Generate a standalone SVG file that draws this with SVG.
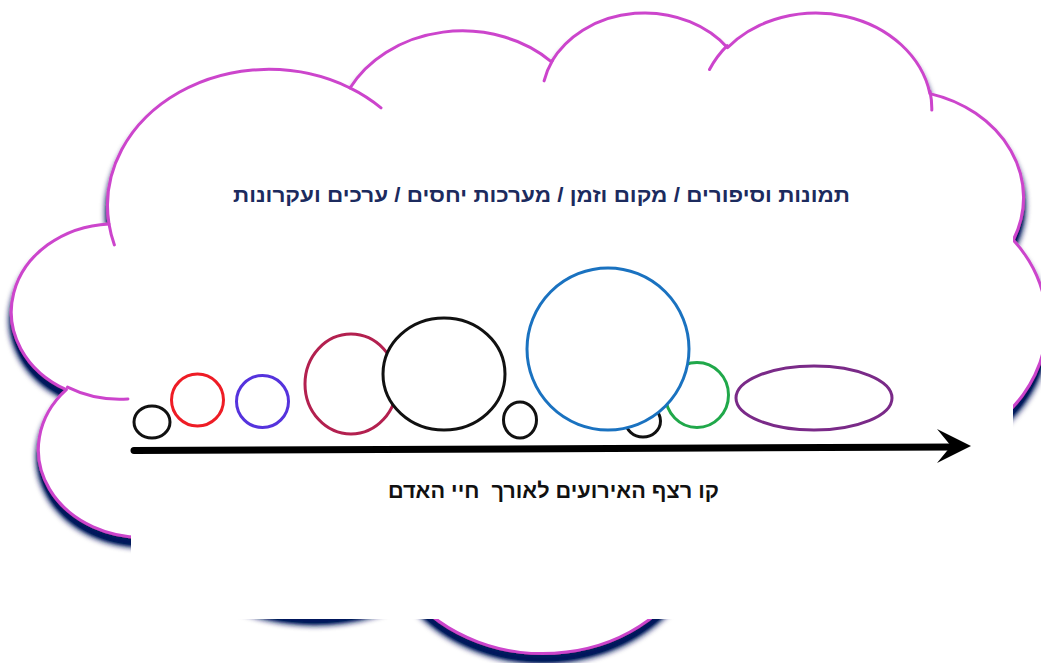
<svg xmlns="http://www.w3.org/2000/svg" width="1041" height="663" viewBox="0 0 1041 663">
  <style>
    .cloud { fill: #ffffff; stroke: #cc44cc; stroke-width: 3; stroke-linejoin: round; }
    .stub { fill: none; stroke: #cc44cc; stroke-width: 3; stroke-linecap: round; }
    .ev { fill: #ffffff; stroke-width: 3; }
    .t { font-family: "Liberation Sans", "DejaVu Sans", Arial, sans-serif; font-weight: bold; }
  </style>
  <defs>
    <filter id="shadow" x="-5%" y="-5%" width="110%" height="115%">
      <feGaussianBlur in="SourceAlpha" stdDeviation="3"/>
      <feOffset dx="0" dy="8" result="b"/>
      <feFlood flood-color="#061a5c"/>
      <feComposite in2="b" operator="in"/>
      <feComponentTransfer>
        <feFuncA type="linear" slope="1.4"/>
      </feComponentTransfer>
      <feMerge>
        <feMergeNode/>
        <feMergeNode in="SourceGraphic"/>
      </feMerge>
    </filter>
  </defs>
  <rect width="1041" height="663" fill="#ffffff"/>

  <g id="cloud">
    <path class="cloud" filter="url(#shadow)" d="M109.0,223.9 A161.1,136.2 0 0 1 350.0,88.0 A127.2,107.7 0 0 1 551.5,61.8 A104.1,88.1 0 0 1 727.5,47.7 A115.8,97.7 0 0 1 929.9,93.6 A127.2,107.8 0 0 1 1013.3,240.0 A161.6,136.6 0 0 1 908.0,458.5 A138.0,116.6 0 0 1 697.0,556.5 A161.0,136.6 0 0 1 409.0,592.8 A184.1,156.2 0 0 1 154.4,536.7 A104.0,87.7 0 0 1 66.4,389.7 A103.6,88.1 0 0 1 109.0,223.9 Z"/>
    <path class="stub" d="M114.4,244.9 A161.1,136.2 0 0 1 109.0,223.9 M349.9,87.9 A161.1,136.2 0 0 1 381.0,107.9 M544.1,80.9 A104.1,88.1 0 0 1 552.6,60.3 M709.5,69.5 A115.8,97.7 0 0 1 727.2,45.6 M930.0,91.4 A115.8,97.7 0 0 1 931.8,110.1 M127.9,398.9 A103.6,88.1 0 0 1 67.5,387.1"/>
  </g>

  <g id="panel">
    <rect x="131" y="170" width="882" height="449" fill="#ffffff"/>
  </g>

  <g id="title">
    <text class="t" x="541.5" y="201.5" font-size="20" fill="#1c2b5e" text-anchor="middle" direction="rtl" textLength="617" lengthAdjust="spacingAndGlyphs">תמונות וסיפורים / מקום וזמן / מערכות יחסים / ערכים ועקרונות</text>
  </g>

  <g id="event-1"><ellipse class="ev" cx="152" cy="422" rx="18" ry="16" stroke="#111111" stroke-width="2.7"/></g>
  <g id="event-2"><circle class="ev" cx="197.5" cy="400" r="26" stroke="#ee1c25"/></g>
  <g id="event-3"><circle class="ev" cx="262.5" cy="401.5" r="26" stroke="#5533dd"/></g>
  <g id="event-4"><ellipse class="ev" cx="351" cy="384" rx="46" ry="50" stroke="#b3204f"/></g>
  <g id="event-5"><ellipse class="ev" cx="444" cy="374" rx="61" ry="56" stroke="#111111" stroke-width="3.2"/></g>
  <g id="event-6"><ellipse class="ev" cx="520" cy="420" rx="16.5" ry="18" stroke="#111111" stroke-width="2.7"/></g>
  <g id="event-7"><ellipse class="ev" cx="643" cy="421" rx="17.5" ry="16" stroke="#111111" stroke-width="2.7"/></g>
  <g id="event-8"><ellipse class="ev" cx="697" cy="395" rx="31.5" ry="32.5" stroke="#20a84a"/></g>
  <g id="event-9"><circle class="ev" cx="608" cy="349" r="81" stroke="#1a72c0"/></g>
  <g id="event-10"><ellipse class="ev" cx="814" cy="398" rx="78" ry="32" stroke="#7a2a88"/></g>

  <g id="connectors">
    <line x1="134" y1="450.5" x2="955" y2="447" stroke="#000000" stroke-width="7" stroke-linecap="round"/>
    <path d="M937,429 L971,446 L937,463 L951,446 Z" fill="#000000"/>
  </g>

  <g id="caption">
    <text class="t" x="553.5" y="498" font-size="21" fill="#111111" text-anchor="middle" direction="rtl" textLength="331" lengthAdjust="spacingAndGlyphs" style="white-space:pre">קו רצף האירועים לאורך  חיי האדם</text>
  </g>
</svg>
